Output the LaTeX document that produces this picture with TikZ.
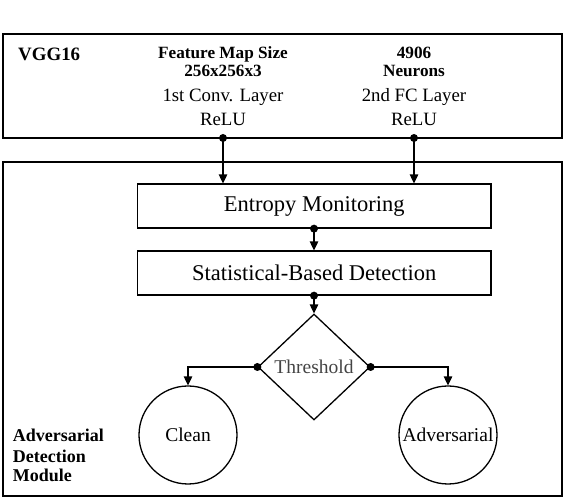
\documentclass[tikz,border=0pt]{standalone}
\usepackage{fontspec}
\setmainfont{Liberation Serif}
\usetikzlibrary{shapes.geometric,arrows.meta}
\definecolor{thgray}{HTML}{444444}
\begin{document}
\begin{tikzpicture}[x=1pt,y=-1pt,
  outer/.style={draw,line width=2.7pt,minimum width=559pt,inner sep=0pt},
  stepbox/.style={draw,line width=1.3pt,minimum width=353.5pt,minimum height=44pt,inner sep=0pt,font=\fontsize{22.5}{24}\selectfont},
  conn/.style={line width=1.4pt,-{Triangle[length=9pt,width=8.5pt]}},
  dotc/.style={circle,fill,inner sep=0pt,minimum size=8pt},
  boldlbl/.style={inner sep=0pt,font=\bfseries\fontsize{17.2}{18}\selectfont},
  reglbl/.style={inner sep=0pt,font=\fontsize{18.8}{20}\selectfont},
  modlbl/.style={inner sep=0pt,anchor=base west,font=\bfseries\fontsize{18}{20}\selectfont},
  endc/.style={circle,draw,line width=1.3pt,minimum size=98pt,inner sep=0pt,font=\fontsize{19.5}{21}\selectfont}
]
\useasboundingbox (0,0) rectangle (566,502);

% outer boxes
\node[outer,minimum height=104pt] (vgg) at (282.5,86) {};
\node[outer,minimum height=334pt] (adm) at (282.5,329) {};

% top box texts
\node[inner sep=0pt,anchor=base west,font=\bfseries\fontsize{18.9}{20}\selectfont] (vggt) at (18,60.7) {VGG16};
\node[boldlbl,anchor=base] (fm1) at (223,59) {Feature Map Size};
\node[boldlbl,anchor=base] (fm2) at (223,76.7) {256x256x3};
\node[reglbl,anchor=base] (cv1) at (223,101.7) {1st Conv. Layer};
\node[reglbl,anchor=base] (cv2) at (223,125.3) {ReLU};
\node[boldlbl,anchor=base] (nn1) at (414,59) {4906};
\node[boldlbl,anchor=base] (nn2) at (414,76.7) {Neurons};
\node[reglbl,anchor=base] (fc1) at (414,101.7) {2nd FC Layer};
\node[reglbl,anchor=base] (fc2) at (414,125.3) {ReLU};

% process boxes
\node[stepbox] (em) at (314.25,206) {Entropy Monitoring};
\node[stepbox] (sd) at (314.25,273) {Statistical-Based Detection};

% decision
\node[diamond,draw,line width=1.3pt,minimum width=112pt,minimum height=106pt,inner sep=0pt,text=thgray,font=\fontsize{19.5}{21}\selectfont] (th) at (314,367) {Threshold};

% outcomes
\node[endc] (clean) at (188,435) {Clean};
\node[endc] (adv) at (448,435) {Adversarial};

% module label
\node[modlbl] (m1) at (12.7,442) {Adversarial};
\node[modlbl] (m2) at (12.7,462.7) {Detection};
\node[modlbl] (m3) at (12.7,481.7) {Module};

% dots
\node[dotc] (d1) at (223,138) {};
\node[dotc] (d2) at (414,138) {};
\node[dotc] (d3) at (em.south -| th.north) {};
\node[dotc] (d4) at (sd.south -| th.north) {};
\node[dotc] (d5) at (th.west) {};
\node[dotc] (d6) at (th.east) {};

% connectors
\draw[conn] (d1.center) -- (d1.center |- em.north);
\draw[conn] (d2.center) -- (d2.center |- em.north);
\draw[conn] (d3.center) -- (sd.north -| d3.center);
\draw[conn] (d4.center) -- (th.north);
\draw[conn] (d5.center) -| (clean.north);
\draw[conn] (d6.center) -| (adv.north);
\end{tikzpicture}
\end{document}
